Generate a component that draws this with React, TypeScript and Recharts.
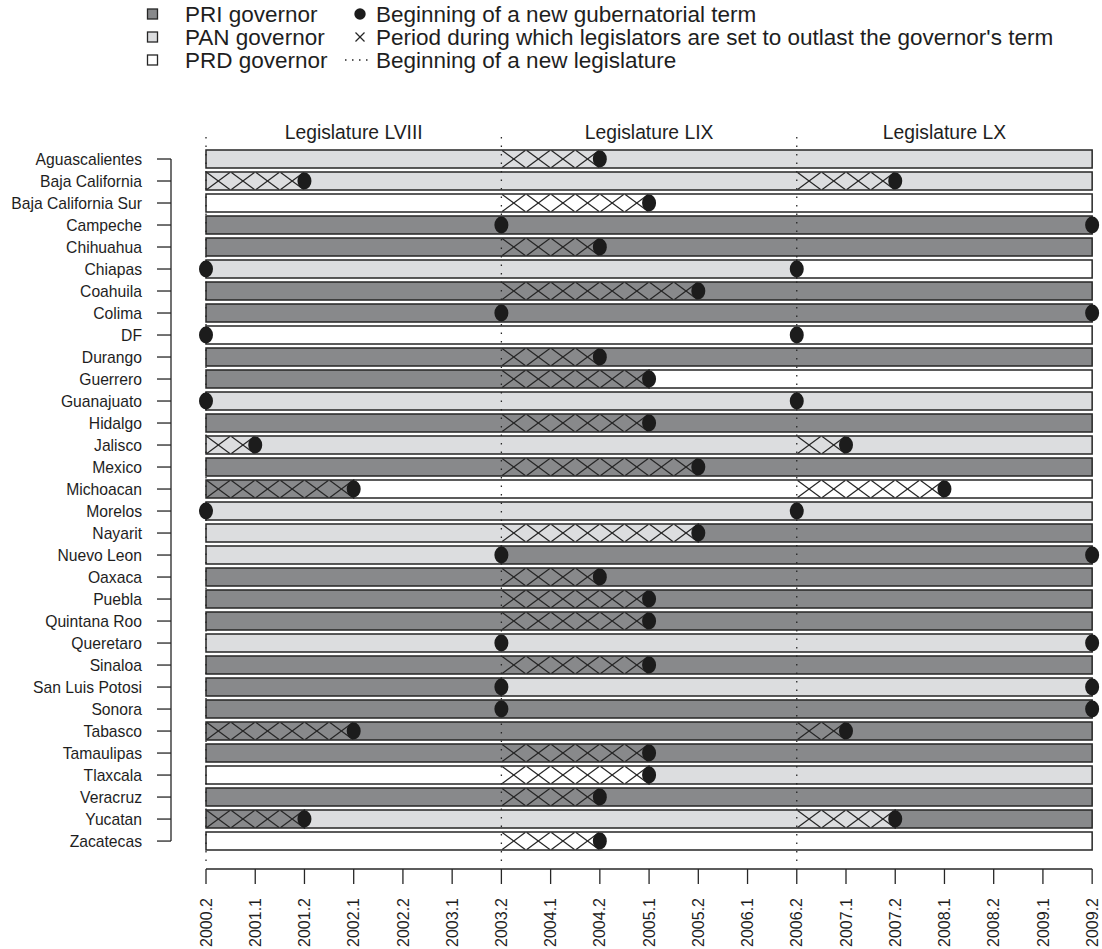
import React from "react";
import { ComposedChart, XAxis, YAxis, Scatter, ReferenceArea, ReferenceLine } from "recharts";

const STATES = [
  "Aguascalientes", "Baja California", "Baja California Sur", "Campeche", "Chihuahua",
  "Chiapas", "Coahuila", "Colima", "DF", "Durango", "Guerrero", "Guanajuato", "Hidalgo",
  "Jalisco", "Mexico", "Michoacan", "Morelos", "Nayarit", "Nuevo Leon", "Oaxaca", "Puebla",
  "Quintana Roo", "Queretaro", "Sinaloa", "San Luis Potosi", "Sonora", "Tabasco",
  "Tamaulipas", "Tlaxcala", "Veracruz", "Yucatan", "Zacatecas",
];

const SEMESTERS = [
  "2000.2", "2001.1", "2001.2", "2002.1", "2002.2", "2003.1", "2003.2", "2004.1", "2004.2",
  "2005.1", "2005.2", "2006.1", "2006.2", "2007.1", "2007.2", "2008.1", "2008.2", "2009.1", "2009.2",
];

// governor's party per stretch, [party, from, to] as semester index
const GOVERNORS: [string, number, number][][] = [
  [["PAN", 0, 18]],
  [["PAN", 0, 18]],
  [["PRD", 0, 18]],
  [["PRI", 0, 18]],
  [["PRI", 0, 18]],
  [["PAN", 0, 12], ["PRD", 12, 18]],
  [["PRI", 0, 18]],
  [["PRI", 0, 18]],
  [["PRD", 0, 18]],
  [["PRI", 0, 18]],
  [["PRI", 0, 9], ["PRD", 9, 18]],
  [["PAN", 0, 18]],
  [["PRI", 0, 18]],
  [["PAN", 0, 18]],
  [["PRI", 0, 18]],
  [["PRI", 0, 3], ["PRD", 3, 18]],
  [["PAN", 0, 18]],
  [["PAN", 0, 10], ["PRI", 10, 18]],
  [["PAN", 0, 6], ["PRI", 6, 18]],
  [["PRI", 0, 18]],
  [["PRI", 0, 18]],
  [["PRI", 0, 18]],
  [["PAN", 0, 18]],
  [["PRI", 0, 18]],
  [["PRI", 0, 6], ["PAN", 6, 18]],
  [["PRI", 0, 18]],
  [["PRI", 0, 18]],
  [["PRI", 0, 18]],
  [["PRD", 0, 9], ["PAN", 9, 18]],
  [["PRI", 0, 18]],
  [["PRI", 0, 2], ["PAN", 2, 14], ["PRI", 14, 18]],
  [["PRD", 0, 18]],
];

// semester in which a new gubernatorial term begins
const NEW_TERMS: number[][] = [
  [8], [2, 14], [9], [6, 18], [8], [0, 12], [10], [6, 18], [0, 12], [8], [9], [0, 12],
  [9], [1, 13], [10], [3, 15], [0, 12], [10], [6, 18], [8], [9], [9], [6, 18], [9],
  [6, 18], [6, 18], [3, 13], [9], [9], [8], [2, 14], [8],
];

// stretches where legislators outlast the governor
const OUTLAST: [number, number][][] = [
  [[6, 8]], [[0, 2], [12, 14]], [[6, 9]], [], [[6, 8]], [], [[6, 10]], [], [], [[6, 8]],
  [[6, 9]], [], [[6, 9]], [[0, 1], [12, 13]], [[6, 10]], [[0, 3], [12, 15]], [], [[6, 10]],
  [], [[6, 8]], [[6, 9]], [[6, 9]], [], [[6, 9]], [], [], [[0, 3], [12, 13]], [[6, 9]],
  [[6, 9]], [[6, 8]], [[0, 2], [12, 14]], [[6, 8]],
];

const LEGISLATURES = ["Legislature LVIII", "Legislature LIX", "Legislature LX"];
const LEGISLATURE_STARTS = [0, 6, 12, 18];

const FILL: Record<string, string> = { PRI: "#88898b", PAN: "#dcdddf", PRD: "#ffffff" };
const INK = "#262626";
const TEXT = "#1e1e1e";
const FONT = "'Liberation Sans', Arial, Helvetica, sans-serif";

const X_MIN = -0.711;
const X_MAX = 18.2;
const Y_TOP = -1;
const Y_BOTTOM = 32.27;
const BAR_HALF = 0.41;
const LAST = SEMESTERS.length - 1;

const rows = STATES.map((_, i) => i);
const semesterTicks = SEMESTERS.map((_, i) => i);

const dotData = NEW_TERMS.flatMap((terms, row) => terms.map((x) => ({ x, y: row })));
const crossData = OUTLAST.flatMap((spans, row) =>
  spans.flatMap(([a, b]) => {
    const pts: { x: number; y: number }[] = [];
    for (let s = a; s < b; s += 0.5) pts.push({ x: s + 0.25, y: row });
    return pts;
  })
);

const Dot = (props: any) => (
  <ellipse cx={props.cx} cy={props.cy} rx={7} ry={8.5} fill="#1c1c1c" />
);

const Cross = (props: any) => {
  const { cx, cy } = props;
  return (
    <g stroke={INK} strokeWidth={1.2}>
      <line x1={cx - 11.5} y1={cy - 8.5} x2={cx + 11.5} y2={cy + 8.5} />
      <line x1={cx - 11.5} y1={cy + 8.5} x2={cx + 11.5} y2={cy - 8.5} />
    </g>
  );
};

const SemesterTick = ({ x, y, payload }: any) => (
  <text
    x={x}
    y={y + 12}
    transform={`rotate(-90 ${x} ${y + 12})`}
    textAnchor="end"
    dy="0.35em"
    fontSize={16}
    fontFamily={FONT}
    fill={TEXT}
  >
    {SEMESTERS[payload.value]}
  </text>
);

function Legend() {
  const fs = 22.5;
  const rowsY = [14, 37, 60];
  return (
    <svg width={1102} height={90} style={{ position: "absolute", left: 0, top: 0 }} fontFamily={FONT}>
      {["PRI", "PAN", "PRD"].map((p, i) => (
        <g key={p}>
          <rect x={147.5} y={rowsY[i] - 5} width={10} height={10} fill={FILL[p]} stroke={INK} strokeWidth={1.3} />
          <text x={185} y={rowsY[i]} dy="0.35em" fontSize={fs} fill={TEXT}>
            {p} governor
          </text>
        </g>
      ))}
      <circle cx={360} cy={rowsY[0]} r={5.7} fill="#1c1c1c" />
      <g stroke={INK} strokeWidth={1.2}>
        <line x1={355.5} y1={rowsY[1] - 4.5} x2={364.5} y2={rowsY[1] + 4.5} />
        <line x1={355.5} y1={rowsY[1] + 4.5} x2={364.5} y2={rowsY[1] - 4.5} />
      </g>
      <line x1={345} y1={rowsY[2]} x2={372} y2={rowsY[2]} stroke={INK} strokeWidth={1.3} strokeDasharray="1.5 5.5" />
      <text x={376} y={rowsY[0]} dy="0.35em" fontSize={fs} fill={TEXT}>Beginning of a new gubernatorial term</text>
      <text x={376} y={rowsY[1]} dy="0.35em" fontSize={fs} fill={TEXT}>
        Period during which legislators are set to outlast the governor's term
      </text>
      <text x={376} y={rowsY[2]} dy="0.35em" fontSize={fs} fill={TEXT}>Beginning of a new legislature</text>
    </svg>
  );
}

export default function App() {
  return (
    <div style={{ position: "absolute", left: 0, top: 0, width: 1102, height: 949, background: "#fff", fontFamily: FONT }}>
      <ComposedChart width={1102} height={949} margin={{ top: 137, right: 0, bottom: 0, left: 0 }}>
        <XAxis
          type="number"
          dataKey="x"
          domain={[X_MIN, X_MAX]}
          allowDataOverflow
          ticks={semesterTicks}
          interval={0}
          height={80}
          tickSize={15}
          axisLine={false}
          tickLine={{ stroke: INK, strokeWidth: 1.3 }}
          tick={<SemesterTick />}
        />
        <YAxis
          type="number"
          dataKey="y"
          domain={[Y_TOP, Y_BOTTOM]}
          allowDataOverflow
          reversed
          ticks={rows}
          interval={0}
          width={171}
          tickSize={14}
          tickMargin={15}
          axisLine={false}
          tickLine={{ stroke: INK, strokeWidth: 1.3 }}
          tickFormatter={(v: number) => STATES[v]}
          tick={{ fontSize: 15.7, fill: TEXT, fontFamily: FONT }}
        />

        {GOVERNORS.flatMap((segs, row) =>
          segs.map(([party, from, to], k) => (
            <ReferenceArea
              key={`g-${row}-${k}`}
              x1={from}
              x2={to}
              y1={row - BAR_HALF}
              y2={row + BAR_HALF}
              fill={FILL[party]}
              fillOpacity={1}
              stroke={INK}
              strokeWidth={1.5}
              ifOverflow="visible"
            />
          ))
        )}

        {LEGISLATURES.map((name, i) => (
          <ReferenceArea
            key={name}
            x1={LEGISLATURE_STARTS[i]}
            x2={LEGISLATURE_STARTS[i + 1]}
            y1={-1.78}
            y2={-0.68}
            fill="none"
            fillOpacity={0}
            stroke="none"
            ifOverflow="visible"
            label={{ value: name, position: "center", fontSize: 19.3, fill: TEXT, fontFamily: FONT }}
          />
        ))}

        {LEGISLATURE_STARTS.slice(0, 3).map((s) => (
          <ReferenceLine
            key={`leg-${s}`}
            segment={[{ x: s, y: Y_TOP }, { x: s, y: 31.95 }]}
            stroke={INK}
            strokeWidth={1.3}
            strokeDasharray="1.5 7"
            ifOverflow="visible"
          />
        ))}

        <ReferenceLine
          segment={[{ x: X_MIN, y: 0 }, { x: X_MIN, y: STATES.length - 1 }]}
          stroke={INK}
          strokeWidth={1.3}
          ifOverflow="visible"
        />
        <ReferenceLine
          segment={[{ x: 0, y: Y_BOTTOM }, { x: LAST, y: Y_BOTTOM }]}
          stroke={INK}
          strokeWidth={1.3}
          ifOverflow="visible"
        />

        <Scatter data={crossData} shape={<Cross />} isAnimationActive={false} />
        <Scatter data={dotData} shape={<Dot />} isAnimationActive={false} />
      </ComposedChart>
      <Legend />
    </div>
  );
}
